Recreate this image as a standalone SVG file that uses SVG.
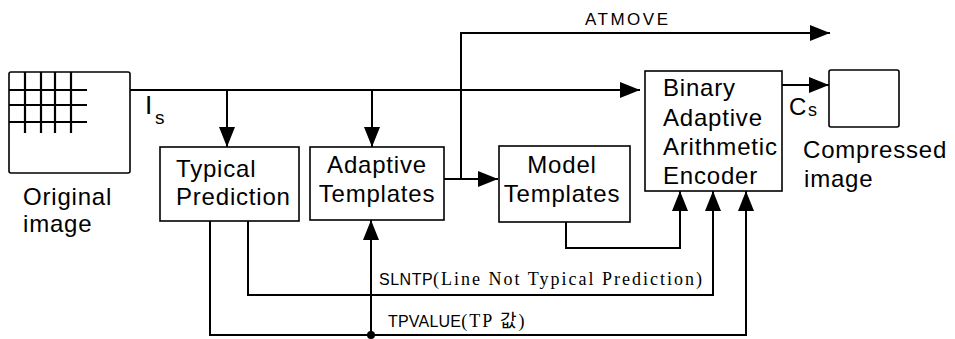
<svg xmlns="http://www.w3.org/2000/svg" width="955" height="339" viewBox="0 0 955 339">
<defs>
<marker id="ah" markerUnits="userSpaceOnUse" markerWidth="20" markerHeight="16" refX="20" refY="8" orient="auto">
<path d="M0,0 L20,8 L0,16 z" fill="#000"/>
</marker>
<style>
.box{fill:#fff;stroke:#000;stroke-width:1.6}
.t{font-family:"Liberation Sans",Arial,sans-serif;font-size:24px;letter-spacing:0.8px;fill:#000}
.c{fill:none;stroke:#000;stroke-width:2}
.s{font-family:"Liberation Sans",Arial,sans-serif;font-size:16px;letter-spacing:0.5px;fill:#000}
.r{font-family:"Liberation Serif","Noto Sans CJK KR","Times New Roman",serif;font-size:18px;letter-spacing:2px;fill:#000}
</style>
</defs>
<rect width="955" height="339" fill="#fff"/>
<g id="original">
<rect class="box" x="9" y="72" width="121" height="101" rx="2"/>
<g stroke="#000" stroke-width="2.2">
<path d="M9,90 H87 M9,105 H87 M9,122 H87 M25,72 V133 M41,72 V133 M55,72 V133 M71,72 V133"/>
</g>
<text class="t" x="23" y="205">Original</text>
<text class="t" x="23" y="232">image</text>
</g>
<g id="typical">
<rect class="box" x="160" y="147" width="139" height="74"/>
<text class="t" x="176" y="177">Typical</text>
<text class="t" x="176" y="205">Prediction</text>
</g>
<g id="adaptive">
<rect class="box" x="310" y="147" width="134" height="73"/>
<text class="t" x="377" y="173" text-anchor="middle">Adaptive</text>
<text class="t" x="377" y="202" text-anchor="middle">Templates</text>
</g>
<g id="model">
<rect class="box" x="499" y="146" width="131" height="76"/>
<text class="t" x="562" y="173" text-anchor="middle">Model</text>
<text class="t" x="562" y="202" text-anchor="middle">Templates</text>
</g>
<g id="encoder">
<rect class="box" x="645" y="71" width="137" height="120"/>
<text class="t" x="663" y="96">Binary</text>
<text class="t" x="663" y="126">Adaptive</text>
<text class="t" x="663" y="155">Arithmetic</text>
<text class="t" x="663" y="184">Encoder</text>
</g>
<g id="compressed">
<rect class="box" x="829" y="70" width="70" height="57" rx="2"/>
<text class="t" x="803" y="158">Compressed</text>
<text class="t" x="804" y="187">image</text>
</g>
<g id="connectors">
<path class="c" d="M130,90 H640" marker-end="url(#ah)"/>
<path class="c" d="M227,90 V147" marker-end="url(#ah)"/>
<path class="c" d="M372,90 V147" marker-end="url(#ah)"/>
<path class="c" d="M461,179 V33 H830" marker-end="url(#ah)"/>
<path class="c" d="M444,179 H498" marker-end="url(#ah)"/>
<path class="c" d="M782,85 H829" marker-end="url(#ah)"/>
<path class="c" d="M566,222 V248 H680 V191" marker-end="url(#ah)"/>
<path class="c" d="M248,221 V295 H713 V191" marker-end="url(#ah)"/>
<path class="c" d="M210,221 V335 H746 V191" marker-end="url(#ah)"/>
<path class="c" d="M371,335 V220" marker-end="url(#ah)"/>
<circle cx="371" cy="335" r="4" fill="#000"/>
<text class="s" x="585" y="25" style="font-size:17px;letter-spacing:2.5px">ATMOVE</text>
<text class="t" x="145" y="114" style="font-size:26px;letter-spacing:0">I</text>
<text class="t" x="155" y="124" style="font-size:19px;letter-spacing:0">s</text>
<text class="t" x="789" y="115" style="letter-spacing:0">C</text>
<text class="t" x="808" y="116" style="font-size:18px;letter-spacing:0">s</text>
<text x="379" y="285"><tspan class="s">SLNTP</tspan><tspan class="r">(Line Not Typical Prediction)</tspan></text>
<text x="388" y="327"><tspan class="s" style="letter-spacing:0.2px">TPVALUE</tspan><tspan class="r">(TP 값)</tspan></text>
</g>
</svg>
